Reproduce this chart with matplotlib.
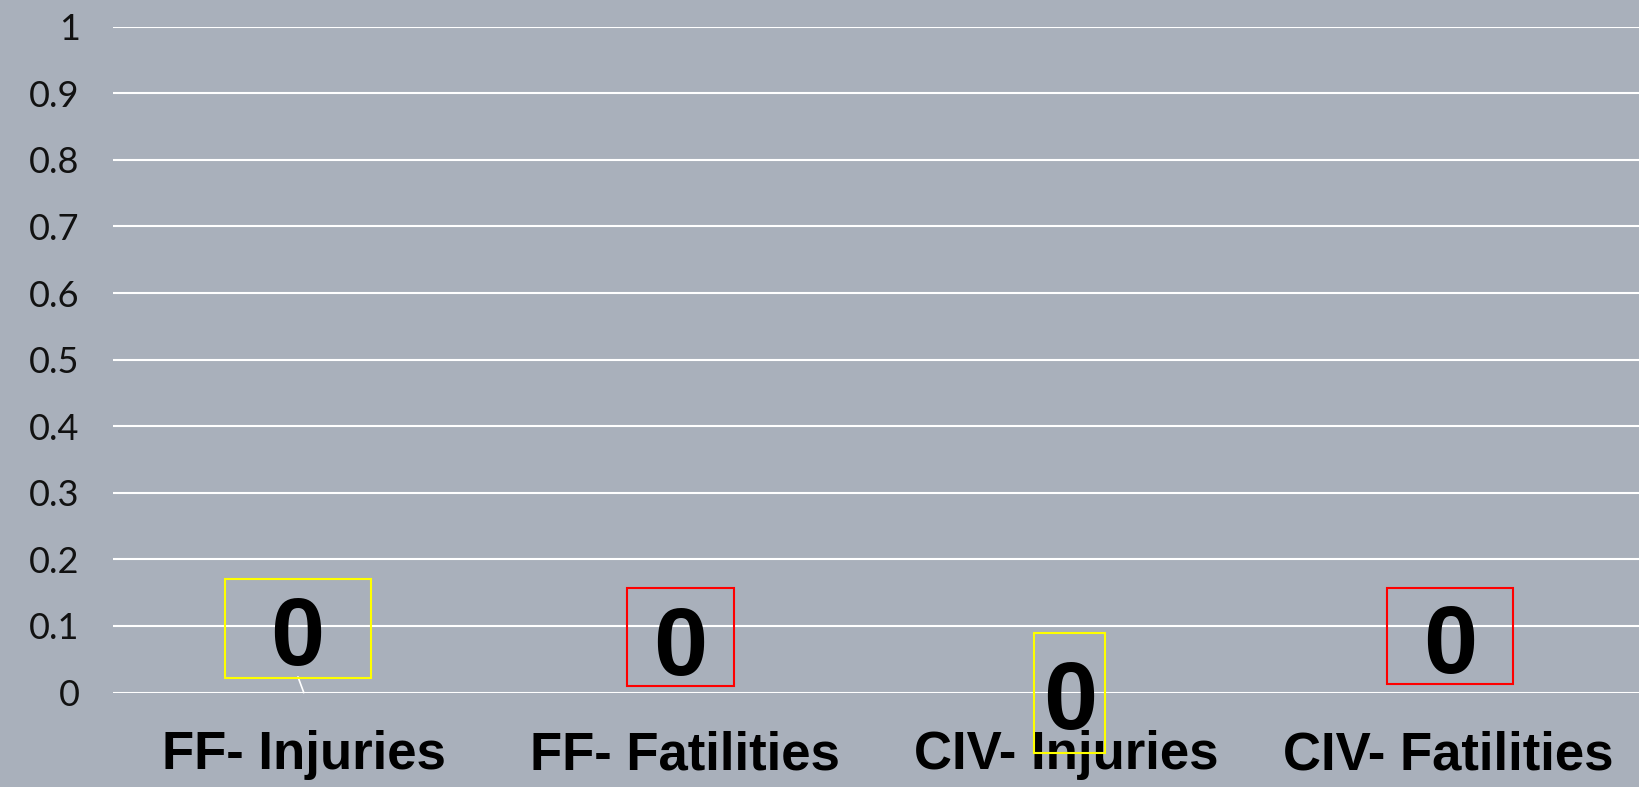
import matplotlib
matplotlib.use("Agg")
import matplotlib.pyplot as plt
import matplotlib.transforms as mtransforms
from matplotlib.patches import Rectangle
from matplotlib.lines import Line2D

categories = ["FF- Injuries", "FF- Fatilities", "CIV- Injuries", "CIV- Fatilities"]
values = [0, 0, 0, 0]
box_colors = ["#FFFF00", "#FF0000", "#FFFF00", "#FF0000"]
yticks = [0, 0.1, 0.2, 0.3, 0.4, 0.5, 0.6, 0.7, 0.8, 0.9, 1]
ytick_labels = ["0", "0.1", "0.2", "0.3", "0.4", "0.5", "0.6", "0.7", "0.8", "0.9", "1"]

# label layout in pixels relative to the data point: text offset, box (left, bottom, width, height)
text_off = [(-7, 52), (-5, 43), (3, -12), (2, 44)]
box_geom = [(-79, 15, 146, 99), (-58, 7, 107, 98), (-33, -60, 71, 120), (-61, 9, 126, 96)]

BG = "#A9B0BB"
fig = plt.figure(figsize=(16.39, 7.87), dpi=100, facecolor=BG)
ax = fig.add_axes([113 / 1639, 1 - 692.5 / 787, 1 - 113 / 1639, (692.5 - 26.7) / 787])
ax.set_facecolor(BG)

x = list(range(len(categories)))
ax.bar(x, values, width=0.6, color="#4472C4")
ax.set_xlim(-0.5, len(categories) - 0.5)
ax.set_ylim(0, 1)
ax.set_yticks(yticks)
ax.set_yticklabels(ytick_labels, fontsize=26, family=["Lato", "DejaVu Sans"], fontweight="normal", color="#111111")
ax.set_xticks(x)
ax.set_xticklabels(categories, fontsize=38, fontweight="bold", family=["Liberation Sans", "DejaVu Sans"], color="black")
ax.tick_params(axis="y", length=0, pad=24)
ax.tick_params(axis="x", length=0, pad=27)
ax.grid(axis="y", color="white", linewidth=1.5)
ax.set_axisbelow(True)
for s in ax.spines.values():
    s.set_visible(False)

for i, v in enumerate(values):
    trans = fig.dpi_scale_trans + mtransforms.ScaledTranslation(x[i], v, ax.transData)
    bx, by, bw, bh = box_geom[i]
    ax.add_patch(Rectangle((bx / 100, by / 100), bw / 100, bh / 100, transform=trans,
                           fill=False, edgecolor=box_colors[i], linewidth=1.5, clip_on=False, zorder=5))
    tx, ty = text_off[i]
    ax.text(tx / 100, ty / 100, f"{v}", transform=trans, ha="center", va="center",
            fontsize=70, fontweight="bold", family=["Liberation Sans", "DejaVu Sans"],
            color="black", clip_on=False, zorder=6)
    if i == 0:
        ax.add_line(Line2D([-0.0575, 0], [0.155, 0], transform=trans, color="white",
                           linewidth=1.2, clip_on=False, zorder=4))

fig.savefig("out.png", dpi=100, facecolor=BG)
